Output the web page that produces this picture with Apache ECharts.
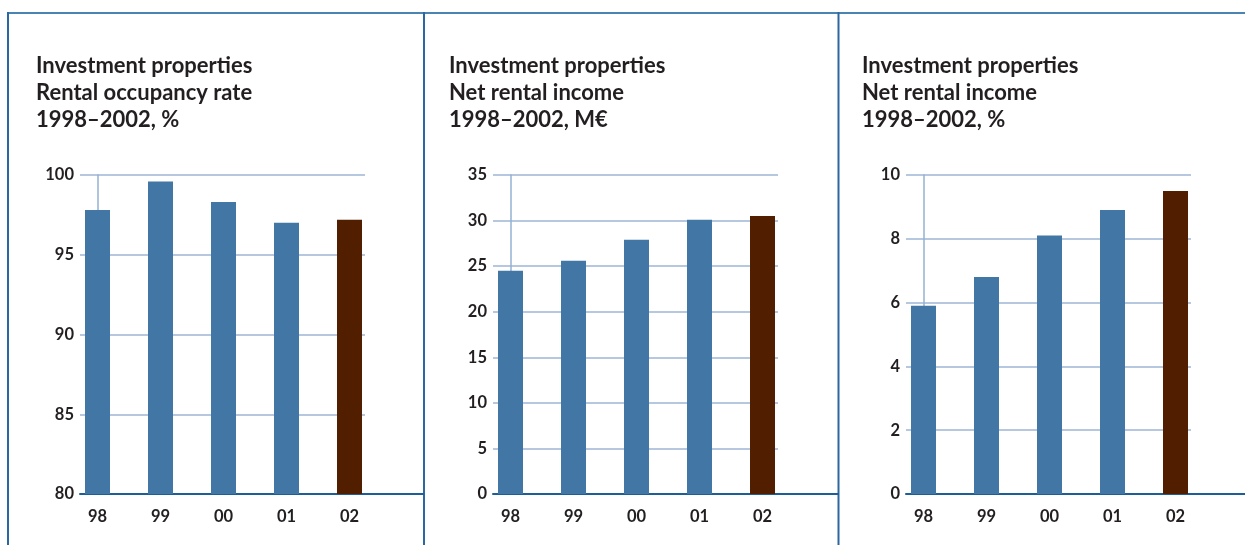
<!DOCTYPE html>
<html>
<head>
<meta charset="utf-8">
<style>
  html, body { margin: 0; padding: 0; background: #ffffff; }
  #chart { width: 1245px; height: 545px; }
</style>
<script src="https://cdn.jsdelivr.net/npm/echarts@6/dist/echarts.min.js"></script>
</head>
<body>
<div id="chart"></div>
<script>
// Year labels along the x axis
const years = ['98', '99', '00', '01', '02'];

// Rental occupancy rate, %
const occupancyRate = [97.8, 99.6, 98.3, 97.0, 97.2];
// Net rental income, M€
const netIncomeMeur = [24.5, 25.6, 27.9, 30.1, 30.5];
// Net rental income, %
const netIncomePct = [5.9, 6.8, 8.1, 8.9, 9.5];

// Panel titles
const titles = [
  'Investment properties\nRental occupancy rate\n1998–2002, %',
  'Investment properties\nNet rental income\n1998–2002, M€',
  'Investment properties\nNet rental income\n1998–2002, %'
];

// Value-axis ranges for each panel
const yRanges = [
  { min: 80, max: 100, interval: 5 },
  { min: 0, max: 35, interval: 5 },
  { min: 0, max: 10, interval: 2 }
];

const seriesValues = [occupancyRate, netIncomeMeur, netIncomePct];

const BAR_BLUE = '#4277a5';
const BAR_BROWN = '#521e00';
const GRID_LINE = '#b5c8df';
const AXIS_DARK = '#1d5e96';
const BORDER = '#2d67a0';
const TEXT = '#231f20';
const FONT = 'Lato, "Open Sans", sans-serif';

// Layout of the three panels
const panels = [
  { axisX: 80,  titleX: 36,  lineEnd: 423 },
  { axisX: 493, titleX: 449, lineEnd: 838 },
  { axisX: 906, titleX: 862, lineEnd: 1245 }
];
const PLOT_TOP = 175;
const PLOT_H = 319;
const PLOT_W = 285;
const STEP = 63;        // px between bar centres
const FIRST = 17.5;     // px from y axis to first bar centre
const xMin = -FIRST / STEP;
const xMax = xMin + PLOT_W / STEP;

const grid = [], xAxis = [], yAxis = [], series = [], title = [];

panels.forEach((p, k) => {
  const g = k * 2;
  // plot grid (bars, y axis, gridlines, year labels)
  grid.push({ left: p.axisX, top: PLOT_TOP, width: PLOT_W, height: PLOT_H, containLabel: false });
  // wider grid carrying the long baseline
  grid.push({ left: p.axisX, top: PLOT_TOP, width: p.lineEnd - p.axisX, height: PLOT_H, containLabel: false });

  xAxis.push({
    gridIndex: g, type: 'value', min: xMin, max: xMax,
    axisLine: { show: false },
    axisTick: { show: false },
    splitLine: { show: false },
    axisLabel: {
      customValues: [0, 1, 2, 3, 4],
      formatter: v => years[Math.round(v)],
      margin: 14, fontSize: 16.5, fontWeight: 'bold', color: TEXT, fontFamily: FONT
    }
  });
  xAxis.push({
    gridIndex: g + 1, type: 'value', min: 0, max: 1,
    axisLine: { show: true, onZero: false, lineStyle: { color: AXIS_DARK, width: 2 } },
    axisTick: { show: false }, axisLabel: { show: false }, splitLine: { show: false }
  });

  const r = yRanges[k];
  yAxis.push({
    gridIndex: g, type: 'value', min: r.min, max: r.max, interval: r.interval,
    axisLine: { show: true, lineStyle: { color: '#94b0d2', width: 1.5 } },
    axisTick: { show: false },
    splitLine: { show: true, lineStyle: { color: GRID_LINE, width: 2 } },
    axisLabel: { margin: 6, fontSize: 16.5, fontWeight: 'bold', color: TEXT, fontFamily: FONT }
  });
  yAxis.push({
    gridIndex: g + 1, type: 'value', min: 0, max: 1, show: false
  });

  series.push({
    type: 'bar',
    xAxisIndex: g, yAxisIndex: g,
    barWidth: 25,
    itemStyle: { color: BAR_BLUE },
    data: seriesValues[k].map((v, i) => ({
      value: [i, v],
      itemStyle: i === years.length - 1 ? { color: BAR_BROWN } : undefined
    })),
    silent: true,
    z: 3
  });

  title.push({
    text: titles[k],
    left: p.titleX, top: 52, padding: 0,
    textStyle: { fontSize: 22, lineHeight: 27, fontWeight: 'bold', color: TEXT, fontFamily: FONT }
  });
});

const chart = echarts.init(document.getElementById('chart'), null, { renderer: 'canvas' });
chart.setOption({
  animation: false,
  backgroundColor: '#ffffff',
  title, grid, xAxis, yAxis, series,
  graphic: [
    { type: 'line', shape: { x1: 7, y1: 13, x2: 1245, y2: 13 }, style: { stroke: '#4a84b3', lineWidth: 2 } },
    { type: 'line', shape: { x1: 8, y1: 12, x2: 8, y2: 545 }, style: { stroke: BORDER, lineWidth: 2 } },
    { type: 'line', shape: { x1: 424, y1: 12, x2: 424, y2: 545 }, style: { stroke: BORDER, lineWidth: 2 } },
    { type: 'line', shape: { x1: 838.5, y1: 12, x2: 838.5, y2: 545 }, style: { stroke: BORDER, lineWidth: 2 } }
  ]
});
</script>
</body>
</html>
